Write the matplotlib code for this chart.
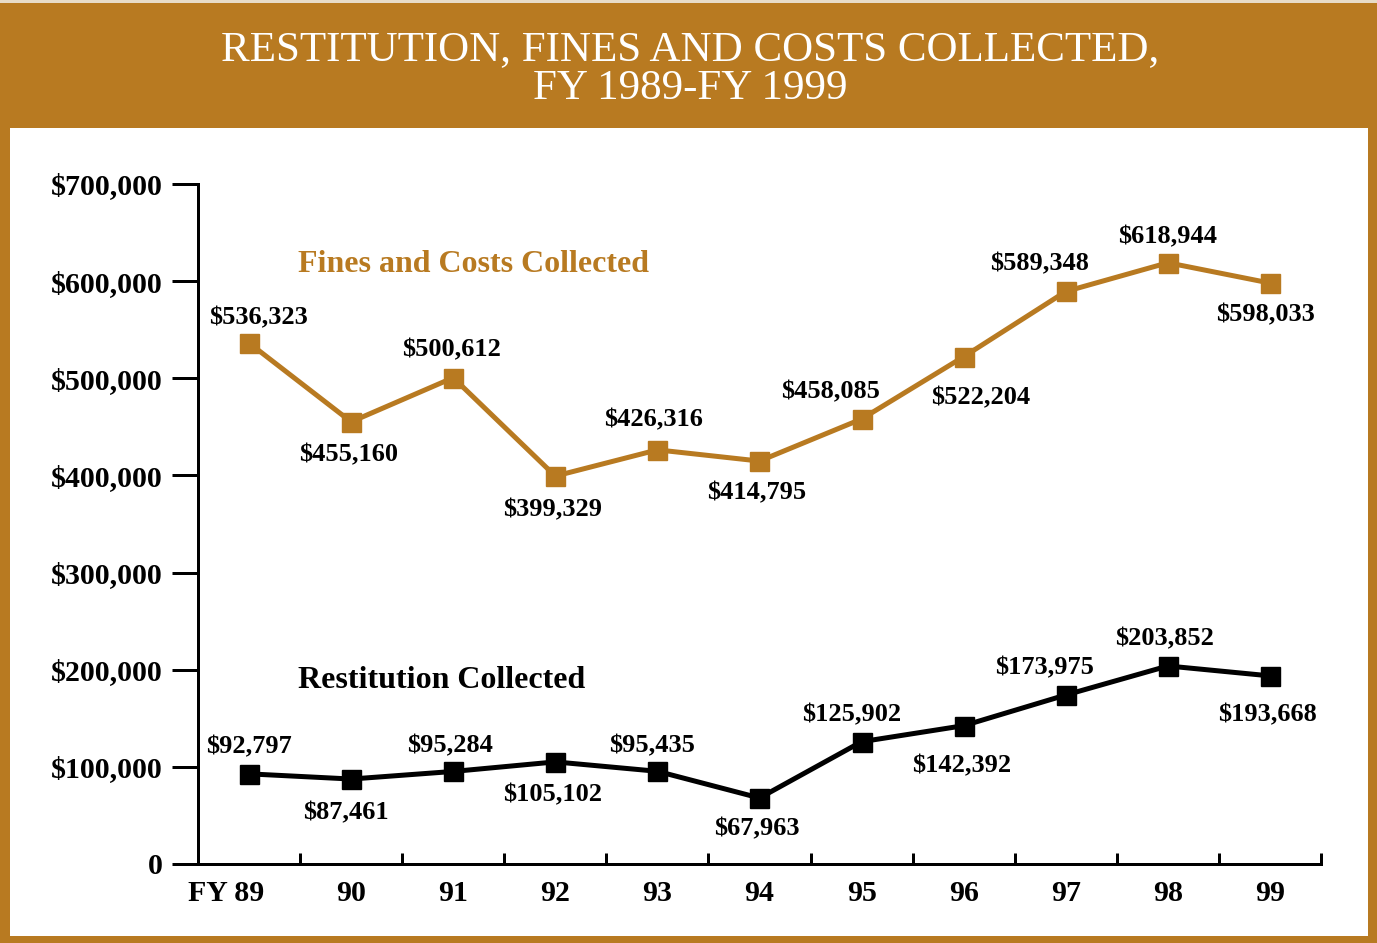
import matplotlib
matplotlib.use("Agg")
import matplotlib.pyplot as plt
from matplotlib.patches import Rectangle
from matplotlib.transforms import ScaledTranslation

# ---- data ----
years = ["FY 89", "90", "91", "92", "93", "94", "95", "96", "97", "98", "99"]
fines = [536323, 455160, 500612, 399329, 426316, 414795, 458085, 522204, 589348, 618944, 598033]
restitution = [92797, 87461, 95284, 105102, 95435, 67963, 125902, 142392, 173975, 203852, 193668]
yticks = [0, 100000, 200000, 300000, 400000, 500000, 600000, 700000]
ytick_labels = ["0", "$100,000", "$200,000", "$300,000", "$400,000", "$500,000", "$600,000", "$700,000"]
title_lines = ["RESTITUTION, FINES AND COSTS COLLECTED,", "FY 1989-FY 1999"]

# label offsets in pixels (dx, dy-up)
fines_off = [(9, 25), (-3, -33), (-2, 28), (-3, -34), (-4, 30), (-3, -32), (-31, 27), (17, -41), (-26, 28), (0, 26), (-5, -32)]
rest_off = [(0, 27), (-5, -34), (-3, 26), (-3, -33), (-5, 25), (-3, -31), (-10, 27), (-2, -40), (-21, 27), (-3, 27), (-3, -39)]

GOLD = "#B87A21"
W, H = 1377, 943
PX = 0.72  # points per pixel at dpi 100

fig = plt.figure(figsize=(W / 100, H / 100), dpi=100)
fig.patch.set_facecolor(GOLD)
fig.patches.append(Rectangle((10 / W, (H - 936) / H), (1368 - 10) / W, (936 - 128) / H,
                             transform=fig.transFigure, facecolor="white", edgecolor="none", zorder=-5))
fig.patches.append(Rectangle((0, (H - 3) / H), 1, 3 / H, transform=fig.transFigure,
                             facecolor="#E8DCC8", edgecolor="none", zorder=-5))

for ty, line in zip([50, 89], title_lines):
    fig.text(690 / W, 1 - ty / H, line, ha="center", va="center", color="white",
             family="Liberation Serif", fontsize=31)

ax = fig.add_axes([198 / W, (H - 864) / H, (1321 - 198) / W, (864 - 184) / H], zorder=2)
ax.set_facecolor("none")
x = list(range(len(years)))

serif = "Liberation Serif"
ax.plot(x, fines, color=GOLD, lw=5 * PX, marker="s", ms=19 * PX, mec=GOLD, mfc=GOLD, clip_on=False, zorder=3)
ax.plot(x, restitution, color="black", lw=5 * PX, marker="s", ms=19 * PX, mec="black", mfc="black", clip_on=False, zorder=3)

for xi, v, (dx, dy) in zip(x, fines, fines_off):
    ax.annotate(f"${v:,}", (xi, v), xytext=(dx * PX, dy * PX), textcoords="offset points",
                ha="center", va="center", family=serif, fontweight="bold", fontsize=19, color="black")
for xi, v, (dx, dy) in zip(x, restitution, rest_off):
    ax.annotate(f"${v:,}", (xi, v), xytext=(dx * PX, dy * PX), textcoords="offset points",
                ha="center", va="center", family=serif, fontweight="bold", fontsize=19, color="black")

ax.text(298 / W, 1 - 264 / H, "Fines and Costs Collected", transform=fig.transFigure, ha="left", va="center",
        family=serif, fontweight="bold", fontsize=23, color=GOLD)
ax.text(298 / W, 1 - 681 / H, "Restitution Collected", transform=fig.transFigure, ha="left", va="center",
        family=serif, fontweight="bold", fontsize=23, color="black")

ax.set_xlim(-0.5, len(years) - 0.5)
ax.set_ylim(0, 700000)

for s in ["top", "right"]:
    ax.spines[s].set_visible(False)
for s in ["left", "bottom"]:
    ax.spines[s].set_linewidth(3 * PX)

ax.set_yticks(yticks)
ax.set_yticklabels(ytick_labels, family=serif, fontweight="bold", fontsize=21.5)
ax.tick_params(axis="y", direction="out", length=26 * PX, width=3 * PX, pad=9 * PX)

ax.set_xticks(x)
ax.set_xticklabels(years, family=serif, fontweight="bold", fontsize=21.5)
ax.tick_params(axis="x", which="major", length=0, pad=16 * PX)
ax.set_xticks([i + 0.5 for i in x], minor=True)
ax.tick_params(axis="x", which="minor", direction="in", length=11 * PX, width=3 * PX)

first = ax.get_xticklabels()[0]
first.set_horizontalalignment("right")
first.set_transform(first.get_transform() + ScaledTranslation(15 / 100, 0, fig.dpi_scale_trans))

fig.savefig("out.png", dpi=100, facecolor=GOLD)
